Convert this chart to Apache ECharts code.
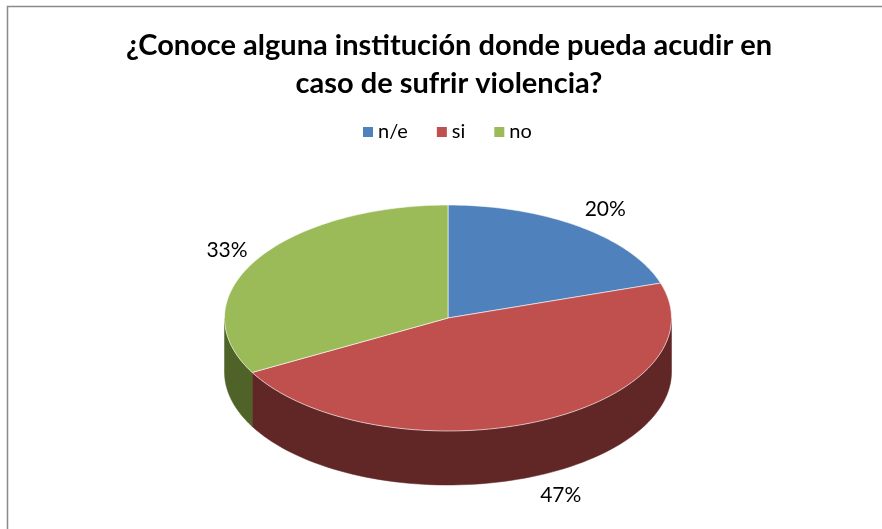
<!DOCTYPE html>
<html>
<head>
<meta charset="utf-8">
<script src="https://cdn.jsdelivr.net/npm/echarts@6/dist/echarts.min.js"></script>
<style>
  html, body { margin: 0; padding: 0; background: #fff; }
  #chart { width: 882px; height: 529px; }
</style>
</head>
<body>
<div id="chart"></div>
<script>
var titleText = '¿Conoce alguna institución donde pueda acudir en\ncaso de sufrir violencia?';
var categories = ['n/e', 'si', 'no'];
var values = [20, 47, 33];

var topColors = ['#4f81bd', '#c0504d', '#9bbb59'];
var sideColors = ['#2c4d75', '#612626', '#4f6228'];

// pie layout (tilted ellipse)
var cx = 448, cy = 318, rx = 223.5, ry = 113, depth = 54;
var fontFamily = 'Lato, "Open Sans", sans-serif';

var total = values.reduce(function (a, b) { return a + b; }, 0);
var starts = [];
var acc = 0;
values.forEach(function (v) { starts.push(acc); acc += v; });

function pt(theta, dy) {
    return [cx + rx * Math.sin(theta), cy - ry * Math.cos(theta) + (dy || 0)];
}

function renderSlice(params, api) {
    var start = api.value(0), val = api.value(1);
    var a0 = start / total * Math.PI * 2;
    var a1 = (start + val) / total * Math.PI * 2;
    var color = api.visual('color');
    var children = [];
    var steps = 80, i, t;

    // side wall, only the front half (90deg..270deg) is seen
    var s0 = Math.max(a0, Math.PI / 2), s1 = Math.min(a1, Math.PI * 1.5);
    if (s1 > s0) {
        var pts = [];
        for (i = 0; i <= steps; i++) {
            t = s0 + (s1 - s0) * i / steps;
            pts.push(pt(t));
        }
        for (i = steps; i >= 0; i--) {
            t = s0 + (s1 - s0) * i / steps;
            pts.push(pt(t, depth));
        }
        children.push({
            type: 'polygon',
            shape: { points: pts },
            style: { fill: sideColors[params.seriesIndex], stroke: sideColors[params.seriesIndex], lineWidth: 0.5 }
        });
    }

    // top face
    var top = [[cx, cy]];
    for (i = 0; i <= steps; i++) {
        t = a0 + (a1 - a0) * i / steps;
        top.push(pt(t));
    }
    children.push({
        type: 'polygon',
        shape: { points: top },
        style: { fill: color, stroke: '#ffffff', lineWidth: 0.6 }
    });

    // percentage label, placed just outside the rim
    var mid = (a0 + a1) / 2;
    var sn = Math.sin(mid), cs = Math.cos(mid);
    var lp = pt(mid, cs < 0 ? depth : 0);
    lp[0] += 10 * sn + (sn > 0 ? 20 : -20);
    lp[1] += -10 * cs - 11 * cs;
    children.push({
        type: 'text',
        x: lp[0], y: lp[1],
        style: {
            text: Math.round(val / total * 100) + '%',
            fill: '#000',
            font: '21px ' + fontFamily,
            align: 'center',
            verticalAlign: 'middle'
        }
    });

    return { type: 'group', children: children };
}

var series = categories.map(function (name, i) {
    return {
        type: 'custom',
        name: name,
        coordinateSystem: 'none',
        itemStyle: { color: topColors[i] },
        silent: true,
        animation: false,
        data: [[starts[i], values[i]]],
        renderItem: renderSlice
    };
});

var chart = echarts.init(document.getElementById('chart'));
chart.setOption({
    backgroundColor: '#ffffff',
    animation: false,
    legend: {
        data: categories,
        top: 122,
        left: 363,
        padding: 0,
        itemWidth: 10,
        itemHeight: 10,
        itemGap: 29,
        icon: 'rect',
        textStyle: { fontFamily: fontFamily, fontSize: 20, color: '#000' }
    },
    graphic: [{
        type: 'rect',
        shape: { x: 7.5, y: 6.5, width: 900, height: 600 },
        style: { fill: 'none', stroke: '#8a8a8a', lineWidth: 1.5 },
        silent: true
    }, {
        type: 'text',
        x: 449,
        y: 27,
        silent: true,
        style: {
            text: titleText,
            align: 'center',
            verticalAlign: 'top',
            fill: '#000',
            font: 'bold 29px ' + fontFamily,
            lineHeight: 38
        }
    }],
    series: series
});
</script>
</body>
</html>
